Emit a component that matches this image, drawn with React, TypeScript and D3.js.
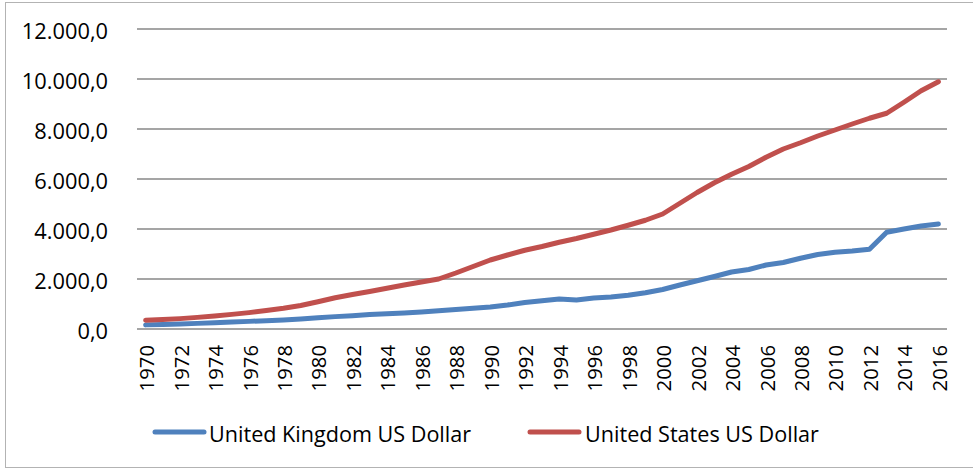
import React from "react";
import * as d3 from "d3";

const years: string[] = [
  "1970","1971","1972","1973","1974","1975","1976","1977","1978","1979",
  "1980","1981","1982","1983","1984","1985","1986","1987","1988","1989",
  "1990","1991","1992","1993","1994","1995","1996","1997","1998","1999",
  "2000","2001","2002","2003","2004","2005","2006","2007","2008","2009",
  "2010","2011","2012","2013","2014","2015","2016",
];

const ukValues: number[] = [
  165, 180, 200, 225, 250, 280, 305, 330, 360, 400,
  450, 495, 530, 580, 610, 640, 680, 730, 780, 830,
  880, 960, 1060, 1130, 1200, 1160, 1240, 1280, 1350, 1450,
  1580, 1760, 1930, 2100, 2280, 2380, 2560, 2660, 2830, 2980,
  3070, 3120, 3190, 3870, 4000, 4120, 4200,
];

const usValues: number[] = [
  350, 380, 415, 465, 520, 585, 655, 740, 830, 940,
  1090, 1250, 1380, 1500, 1630, 1760, 1880, 2000, 2240, 2500,
  2760, 2960, 3150, 3300, 3470, 3620, 3790, 3960, 4150, 4350,
  4600, 5030, 5460, 5850, 6190, 6500, 6870, 7200, 7450, 7720,
  7960, 8200, 8430, 8630, 9070, 9530, 9890,
];

const yTicks: number[] = [0, 2000, 4000, 6000, 8000, 10000, 12000];
const xTickLabels: string[] = years.filter((_, i) => i % 2 === 0);

const seriesNames: string[] = ["United Kingdom US Dollar", "United States US Dollar"];
const seriesColors: string[] = ["#4F81BD", "#C0504D"];

const W = 973;
const H = 470;
const FONT = "'Open Sans', 'Noto Sans', sans-serif";

function fmt(v: number): string {
  const s = Math.round(v).toString().replace(/\B(?=(\d{3})+(?!\d))/g, ".");
  return s + ",0";
}

export default function App() {
  const x = d3.scaleBand<string>().domain(years).range([137, 947]);
  const y = d3.scaleLinear().domain([0, 12000]).range([329, 29]);
  const cx = (yr: string) => (x(yr) as number) + x.bandwidth() / 2;

  const line = d3
    .line<number>()
    .x((_, i) => cx(years[i]))
    .y((d) => y(d));

  const data = [ukValues, usValues];

  return (
    <svg
      width={W}
      height={H}
      style={{ position: "absolute", left: 0, top: 0, background: "#fff" }}
      fontFamily={FONT}
    >
      <rect x={0} y={0} width={W} height={H} fill="#fff" />
      <rect x={5.5} y={2.5} width={975} height={465} fill="none" stroke="#b3b3b3" strokeWidth={1} />

      {yTicks.map((t) => (
        <g key={t}>
          <line x1={137} x2={947} y1={y(t)} y2={y(t)} stroke="#878787" strokeWidth={1.5} />
          <text
            x={108}
            y={y(t) + 1}
            textAnchor="end"
            dominantBaseline="central"
            fontSize={21.8}
            fill="#000"
          >
            {fmt(t)}
          </text>
        </g>
      ))}

      {xTickLabels.map((yr) => (
        <text
          key={yr}
          transform={`translate(${cx(yr) + 0.5},${y(0) + 16}) rotate(-90)`}
          textAnchor="end"
          dominantBaseline="central"
          fontSize={20.3}
          fill="#000"
        >
          {yr}
        </text>
      ))}

      {data.map((vals, i) => (
        <path
          key={i}
          d={line(vals) || ""}
          fill="none"
          stroke={seriesColors[i]}
          strokeWidth={5}
          strokeLinejoin="round"
          strokeLinecap="round"
        />
      ))}

      {seriesNames.map((name, i) => {
        const lx = i === 0 ? 155 : 530;
        const tx = i === 0 ? 209 : 585;
        return (
          <g key={name}>
            <line
              x1={lx}
              x2={lx + 49}
              y1={432}
              y2={432}
              stroke={seriesColors[i]}
              strokeWidth={5}
              strokeLinecap="round"
            />
            <text x={tx} y={433} dominantBaseline="central" fontSize={21.6} fill="#000">
              {name}
            </text>
          </g>
        );
      })}
    </svg>
  );
}
